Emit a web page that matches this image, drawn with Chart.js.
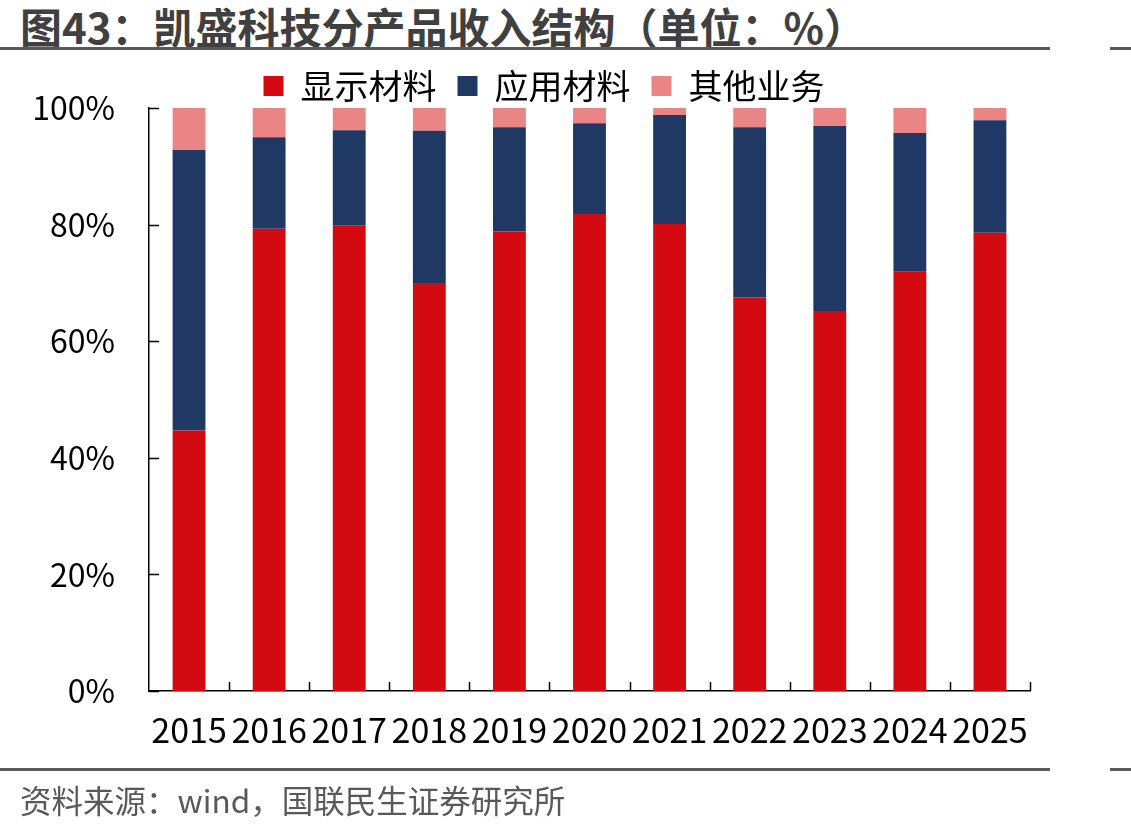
<!DOCTYPE html>
<html lang="zh">
<head>
    <meta charset="UTF-8">
    <title>凯盛科技分产品收入结构</title>
    <script src="https://cdn.jsdelivr.net/npm/chart.js"></script>
    <style>
        body { margin: 0; background: #fff; }
        #wrap { position: relative; width: 1131px; height: 830px; overflow: hidden; font-family: "Noto Sans CJK SC", sans-serif; }
        #title { position: absolute; left: 20px; top: -5px; font-size: 42px; font-weight: bold; color: #404040; white-space: nowrap; }
        .rule { position: absolute; height: 3px; background: #5a5a5a; }
        #source { position: absolute; left: 20px; top: 776px; font-size: 31.5px; color: #595959; white-space: nowrap; }
        #chart { position: absolute; left: 0; top: 0; }
    </style>
</head>
<body>
<div id="wrap">
    <div id="title">图43：凯盛科技分产品收入结构（单位：%）</div>
    <div class="rule" style="left:0;top:47px;width:1050px"></div>
    <div class="rule" style="left:1110px;top:47px;width:21px"></div>
    <canvas id="chart" width="1131" height="830"></canvas>
    <div class="rule" style="left:0;top:768px;width:1050px"></div>
    <div class="rule" style="left:1110px;top:768px;width:21px"></div>
    <div id="source">资料来源：wind，国联民生证券研究所</div>
</div>
<script>
    const years = ["2015", "2016", "2017", "2018", "2019", "2020", "2021", "2022", "2023", "2024", "2025"];
    const displayMat = [44.7, 79.3, 79.8, 70.0, 78.8, 81.8, 80.1, 67.5, 65.2, 71.9, 78.6];
    const applyMat = [48.1, 15.7, 16.4, 26.1, 17.9, 15.6, 18.7, 29.2, 31.7, 23.8, 19.3];
    const otherBiz = [7.2, 5.0, 3.8, 3.9, 3.3, 2.6, 1.2, 3.3, 3.1, 4.3, 2.1];

    const FONT = "'Noto Sans CJK SC', sans-serif";

    // inward tick marks like the original (x ticks up, y ticks right)
    const innerTicks = {
        id: "innerTicks",
        afterDraw(chart) {
            const ctx = chart.ctx;
            const xs = chart.scales.x, ys = chart.scales.y;
            const area = chart.chartArea;
            ctx.save();
            ctx.strokeStyle = "#000";
            ctx.lineWidth = 1.5;
            ctx.beginPath();
            const n = xs.ticks.length;
            const step = xs.getPixelForTick(1) - xs.getPixelForTick(0);
            for (let i = 0; i < n; i++) {
                const x = Math.round(xs.getPixelForTick(i) + step / 2) + 0.5;
                ctx.moveTo(x, area.bottom);
                ctx.lineTo(x, area.bottom - 9);
            }
            ys.ticks.forEach(t => {
                const y = Math.round(ys.getPixelForValue(t.value)) + 0.5;
                ctx.moveTo(area.left, y);
                ctx.lineTo(area.left + 10, y);
            });
            ctx.stroke();
            ctx.restore();
        }
    };

    // nudge the legend a bit right and down, as in the original
    const legendNudge = {
        id: "legendNudge",
        afterLayout(chart) {
            const lg = chart.legend;
            lg.left += 29; lg.right += 29;
            lg.top += 5; lg.bottom += 5;
        }
    };

    new Chart(document.getElementById("chart"), {
        type: "bar",
        data: {
            labels: years,
            datasets: [
                { label: "显示材料", data: displayMat, backgroundColor: "#d40a11" },
                { label: "应用材料", data: applyMat, backgroundColor: "#203864" },
                { label: "其他业务", data: otherBiz, backgroundColor: "#eb8585" }
            ]
        },
        options: {
            responsive: false,
            animation: false,
            devicePixelRatio: 1,
            layout: { padding: { left: 0, right: 101, top: 43, bottom: 0 } },
            datasets: { bar: { categoryPercentage: 1, barPercentage: 0.41 } },
            plugins: {
                legend: {
                    position: "top",
                    labels: {
                        font: { family: FONT, size: 34 },
                        color: "#000",
                        boxWidth: 20,
                        boxHeight: 20,
                        padding: 21
                    }
                },
                tooltip: { enabled: false }
            },
            scales: {
                x: {
                    stacked: true,
                    grid: { display: false, drawTicks: false },
                    border: { color: "#000", width: 1.5 },
                    ticks: { font: { family: FONT, size: 34 }, color: "#000", padding: 19, maxRotation: 0, autoSkip: false },
                    afterFit(s) { s.height = 139; }
                },
                y: {
                    stacked: true,
                    min: 0,
                    max: 100,
                    grid: { display: false, drawTicks: false },
                    border: { color: "#000", width: 1.5 },
                    ticks: { stepSize: 20, font: { family: FONT, size: 32 }, color: "#000", padding: 34, callback: v => v + "%" },
                    afterFit(s) { s.width = 149; }
                }
            }
        },
        plugins: [innerTicks, legendNudge]
    });
</script>
</body>
</html>
